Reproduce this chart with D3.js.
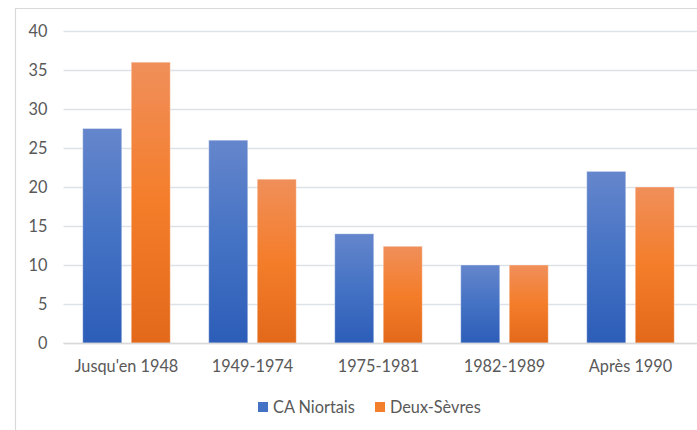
<!DOCTYPE html>
<html>
<head>
<meta charset="utf-8">
<script src="https://cdn.jsdelivr.net/npm/d3@7/dist/d3.min.js"></script>
<style>
  html, body { margin: 0; padding: 0; background: #fff; }
  svg { display: block; }
  text { font-family: Lato, "Open Sans", sans-serif; fill: #595959; }
</style>
</head>
<body>
<svg id="chart" width="697" height="430"></svg>
<script>
// Périodes de construction
const categories = ["Jusqu'en 1948", "1949-1974", "1975-1981", "1982-1989", "Après 1990"];
// Part en %
const caNiortais = [27.5, 26, 14, 10, 22];
const deuxSevres = [36, 21, 12.4, 10, 20];
const seriesNames = ["CA Niortais", "Deux-Sèvres"];
const yTicks = [0, 5, 10, 15, 20, 25, 30, 35, 40];

const svg = d3.select("#chart");
const W = 697, H = 430;
const plot = { left: 63.5, right: 693.5, top: 31, bottom: 343 };
const fontSize = 16.3;

// Gradients dans le style des barres Office
const defs = svg.append("defs");
const grads = [
  { id: "gBlue", stops: ["#6586cc", "#4472c4", "#2c5db8"] },
  { id: "gOrange", stops: ["#f08f5a", "#f47d2a", "#e2691a"] }
];
grads.forEach(g => {
  const lg = defs.append("linearGradient").attr("id", g.id)
    .attr("x1", 0).attr("y1", 0).attr("x2", 0).attr("y2", 1);
  g.stops.forEach((c, i) => lg.append("stop").attr("offset", i / 2).attr("stop-color", c));
});

// Cadre de la zone graphique
svg.append("path")
  .attr("d", `M15.5,${H} V8.5 H${W}`)
  .attr("fill", "none").attr("stroke", "#d9d9d9").attr("stroke-width", 1.2);

const x = d3.scaleBand().domain(categories).range([plot.left, plot.right]).paddingInner(0).paddingOuter(0);
const y = d3.scaleLinear().domain([0, 40]).range([plot.bottom, plot.top]);

// Quadrillage et axe Y
const yAxis = svg.append("g").attr("transform", `translate(${plot.left},0)`)
  .call(d3.axisLeft(y).tickValues(yTicks).tickSize(-(W - plot.left)).tickPadding(16));
yAxis.select(".domain").remove();
yAxis.selectAll(".tick line").attr("stroke", "#dde1e8").attr("stroke-width", 1.5);
yAxis.selectAll(".tick text").attr("font-size", fontSize).attr("fill", "#595959")
  .style("font-family", "Lato, sans-serif");

// Barres groupées
const barW = 39, gap = 9.5;
const offset = (x.bandwidth() - (barW * 2 + gap)) / 2;
const series = [caNiortais, deuxSevres];
series.forEach((vals, si) => {
  svg.append("g").selectAll("rect").data(vals).join("rect")
    .attr("x", (d, i) => x(categories[i]) + offset + si * (barW + gap))
    .attr("y", d => y(d))
    .attr("width", barW)
    .attr("height", d => y(0) - y(d))
    .attr("fill", `url(#${grads[si].id})`)
    .attr("stroke", "rgba(255,255,255,0.35)").attr("stroke-width", 1);
});

// Axe X
const xAxis = svg.append("g").attr("transform", `translate(0,${plot.bottom})`)
  .call(d3.axisBottom(x).tickSize(0).tickPadding(17));
xAxis.select(".domain").attr("stroke", "#d9d9d9").attr("stroke-width", 1.5)
  .attr("d", `M${plot.left},0.5H${W}`);
xAxis.selectAll(".tick text").attr("font-size", fontSize).attr("fill", "#595959")
  .style("font-family", "Lato, sans-serif");

// Légende
const legend = svg.append("g");
const legendItems = [
  { x: 258, name: seriesNames[0], c: "#4472c4" },
  { x: 375, name: seriesNames[1], c: "#f37f2c" }
];
legendItems.forEach(it => {
  legend.append("rect").attr("x", it.x).attr("y", 402).attr("width", 10).attr("height", 10).attr("fill", it.c);
  legend.append("text").attr("x", it.x + 15).attr("y", 412.5).attr("font-size", fontSize).text(it.name);
});
</script>
</body>
</html>
